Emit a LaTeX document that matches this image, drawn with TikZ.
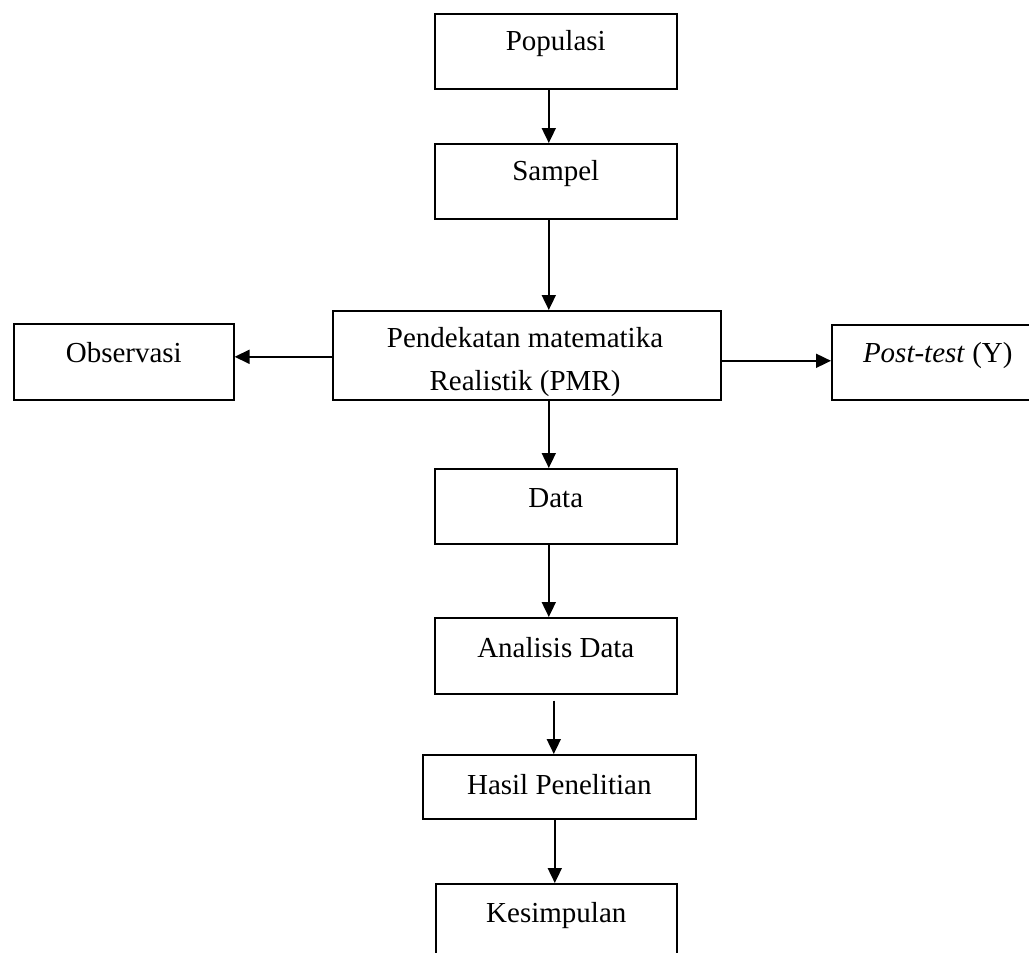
\documentclass[tikz,border=0pt]{standalone}
\usepackage{fontspec}
\setmainfont{Liberation Serif}
\usetikzlibrary{arrows.meta}
\begin{document}
\begin{tikzpicture}[x=1pt,y=-1pt,
  box/.style={draw, line width=1.6pt, inner sep=0pt, anchor=north west,
    font=\fontsize{29}{43}\selectfont},
  txt/.style={inner sep=0pt, anchor=base, font=\fontsize{29}{43}\selectfont},
  arr/.style={line width=1.8pt, -{Triangle[length=15pt,width=14pt]}}]
\useasboundingbox (0,0) rectangle (1029,953);
\node[box, minimum width=242pt, text height=37pt, text depth=38pt] (pop) at (434,13) {Populasi};
\node[box, minimum width=242pt, text height=37pt, text depth=38pt] (sam) at (434,143) {Sampel};
\node[box, minimum width=388pt, minimum height=89pt] (pmr) at (332,310) {};
\node[txt] (pmra) at (525,347) {Pendekatan matematika};
\node[txt] (pmrb) at (525,390) {Realistik (PMR)};
\node[box, minimum width=220pt, text height=39pt, text depth=37pt] (obs) at (13,323) {Observasi};
\node[box, minimum width=212pt, text height=38pt, text depth=37pt] (post) at (831,324) {\textit{Post-test} (Y)};
\node[box, minimum width=242pt, text height=39pt, text depth=36pt] (dat) at (434,468) {Data};
\node[box, minimum width=242pt, text height=40pt, text depth=36pt] (ana) at (434,617) {Analisis Data};
\node[box, minimum width=273pt, text height=40pt, text depth=24pt] (has) at (422,754) {Hasil Penelitian};
\node[box, minimum width=241pt, text height=39pt, text depth=50pt] (kes) at (435,883) {Kesimpulan};
\draw[arr] ([xshift=-7pt]pop.south) -- ([xshift=-7pt]sam.north);
\draw[arr] ([xshift=-7pt]sam.south) -- ([xshift=-7pt]sam.south |- pmr.north);
\draw[arr] ([yshift=-1.5pt]pmr.west) coordinate (pw) -- (pw -| obs.east);
\draw[arr] ([yshift=-5.5pt]pmr.east) coordinate (pe) -- (pe -| post.west);
\draw[arr] ([xshift=-7pt]dat.north |- pmr.south) -- ([xshift=-7pt]dat.north);
\draw[arr] ([xshift=-7pt]dat.south) -- ([xshift=-7pt]ana.north);
\draw[arr] ([xshift=-2pt,yshift=-6pt]ana.south) coordinate (as) -- (as |- has.north);
\draw[arr] ([xshift=-4.5pt]has.south) -- ([xshift=-4.5pt]has.south |- kes.north);
\end{tikzpicture}
\end{document}
